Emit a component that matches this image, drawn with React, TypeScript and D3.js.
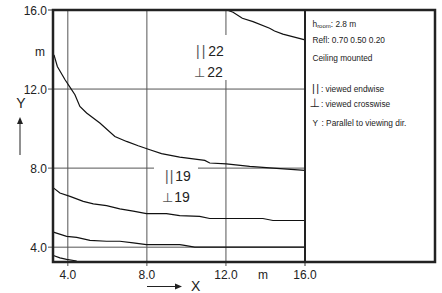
import * as d3 from 'd3'

// UGR contour diagram (room dimensions X/Y in m)
const W = 442
const H = 293
const FONT = "'Liberation Sans', Arial, Helvetica, sans-serif"

const xTicks = [4, 8, 12, 16]
const yTicks = [4, 8, 12, 16]
const gridValues = [4, 8, 12]

// contour polylines [x, y] in metres
const contourTop: [number, number][] = [
  [12.05, 16.0], [12.36, 15.89], [12.83, 15.58], [13.37, 15.41], [14.21, 15.08],
  [14.46, 14.94], [14.88, 14.78], [15.56, 14.6], [16.0, 14.49],
]
const contourUpper: [number, number][] = [
  [3.3, 13.73], [3.47, 13.14], [3.86, 12.47], [4.14, 12.05], [4.36, 11.71],
  [4.61, 11.12], [4.95, 10.79], [5.62, 10.28], [6.38, 9.6], [6.97, 9.35],
  [7.56, 9.13], [8.15, 8.93], [8.74, 8.73], [9.66, 8.56], [10.93, 8.39],
  [11.18, 8.26], [12.02, 8.21], [13.2, 8.09], [14.21, 8.01], [16.0, 7.89],
]
const contourMiddle: [number, number][] = [
  [3.27, 7.0], [3.6, 6.74], [4.11, 6.57], [4.78, 6.32], [5.29, 6.19],
  [5.96, 6.1], [6.63, 5.94], [7.31, 5.82], [7.98, 5.7], [8.99, 5.7],
  [9.66, 5.6], [10.67, 5.56], [11.18, 5.45], [13.87, 5.45], [14.38, 5.35],
  [16.0, 5.35],
]
const contourLower: [number, number][] = [
  [3.27, 4.76], [3.94, 4.55], [4.45, 4.5], [5.12, 4.34], [5.96, 4.3],
  [6.63, 4.3], [7.31, 4.22], [7.98, 4.13], [9.66, 4.13], [9.83, 4.1],
  [10.42, 4.0], [16.0, 4.0],
]
const contourBottom: [number, number][] = [
  [3.27, 3.58], [3.6, 3.46], [3.94, 3.38], [4.45, 3.3],
]
const contours = [contourTop, contourUpper, contourMiddle, contourLower, contourBottom]

const labels22 = ['22', '22']
const labels19 = ['19', '19']

export default function App() {
  const M = { left: 53, top: 10, plotRight: 305, right: 435, bottom: 262 }
  const x = d3.scaleLinear().domain([3.25, 16]).range([M.left, M.plotRight])
  const y = d3.scaleLinear().domain([3.25, 16]).range([M.bottom, M.top])
  const line = d3.line<[number, number]>().x((d) => x(d[0])).y((d) => y(d[1]))

  const txt = '#222'

  return (
    <svg width={W} height={H} viewBox={`0 0 ${W} ${H}`}
      style={{ position: 'absolute', left: 0, top: 0, background: '#fff' }}
      fontFamily={FONT}>
      <rect x={0} y={0} width={W} height={H} fill="#fff" />

      {/* grid lines + ticks */}
      {gridValues.map((v) => (
        <g key={'g' + v}>
          <line x1={x(v)} x2={x(v)} y1={M.top} y2={M.bottom + 4} stroke="#555" strokeWidth={1} />
          <line x1={M.left - 5} x2={M.plotRight} y1={y(v)} y2={y(v)} stroke="#555" strokeWidth={1} />
        </g>
      ))}
      <line x1={M.left - 5} x2={M.left} y1={y(16)} y2={y(16)} stroke="#333" strokeWidth={1} />
      <line x1={x(16)} x2={x(16)} y1={M.bottom} y2={M.bottom + 4} stroke="#333" strokeWidth={1} />

      {/* label backgrounds (break the grid) */}
      <rect x={193} y={35} width={36} height={45} fill="#fff" />
      <rect x={154} y={162} width={44} height={46} fill="#fff" />

      {/* contours */}
      {contours.map((c, i) => (
        <path key={i} d={line(c) ?? ''} fill="none" stroke="#111" strokeWidth={1.2} />
      ))}

      {/* frame */}
      <rect x={M.left} y={M.top} width={M.right - M.left} height={M.bottom - M.top}
        fill="none" stroke="#222" strokeWidth={2.5} />
      <line x1={M.plotRight} x2={M.plotRight} y1={M.top} y2={M.bottom} stroke="#222" strokeWidth={2} />

      {/* contour labels */}
      <text x={196} y={56} fontSize={14} fill={txt}>
        <tspan fill="#555" letterSpacing={2}>||</tspan><tspan dx={1}>{labels22[0]}</tspan>
      </text>
      <text x={194} y={77} fontSize={14} fill={txt}>
        <tspan fill="#555" fontFamily="'DejaVu Sans', sans-serif" fontSize={13}>⊥</tspan><tspan dx={2}>{labels22[1]}</tspan>
      </text>
      <text x={165} y={181} fontSize={14} fill={txt}>
        <tspan fill="#555" letterSpacing={1}>||</tspan><tspan dx={1}>{labels19[0]}</tspan>
      </text>
      <text x={162} y={202} fontSize={14} fill={txt}>
        <tspan fill="#555" fontFamily="'DejaVu Sans', sans-serif" fontSize={13}>⊥</tspan><tspan dx={1}>{labels19[1]}</tspan>
      </text>

      {/* axis tick labels */}
      {xTicks.map((v) => (
        <text key={'x' + v} x={x(v)} y={279} fontSize={12} textAnchor="middle" fill={txt}>
          {v.toFixed(1)}
        </text>
      ))}
      {yTicks.map((v) => (
        <text key={'y' + v} x={47} y={y(v) + 4.5} fontSize={12} textAnchor="end" fill={txt}>
          {v.toFixed(1)}
        </text>
      ))}
      <text x={263} y={279} fontSize={12} textAnchor="middle" fill={txt}>m</text>
      <text x={40} y={56} fontSize={12} textAnchor="middle" fill={txt}>m</text>

      {/* axis arrows */}
      <line x1={147} x2={176} y1={286.5} y2={286.5} stroke="#222" strokeWidth={1} />
      <path d="M182,286.5 L175,283.5 L175,289.5 Z" fill="#222" />
      <text x={191} y={291} fontSize={14} fill={txt}>X</text>
      <line x1={20} x2={20} y1={155} y2={123} stroke="#222" strokeWidth={1} />
      <path d="M20,117 L17,124 L23,124 Z" fill="#222" />
      <text x={21} y={108} fontSize={14} textAnchor="middle" fill={txt}>Y</text>

      {/* legend panel */}
      <g fontSize={8.3} fill={txt}>
        <text x={312.5} y={27}>h<tspan fontSize={6} dy={1}>room</tspan><tspan dy={-1}>: 2.8 m</tspan></text>
        <text x={312.5} y={43}>Refl: 0.70 0.50 0.20</text>
        <text x={312.5} y={61}>Ceiling mounted</text>
        <text x={312} y={92} fontSize={11} letterSpacing={1.5}>||</text>
        <text x={321} y={91.5}>: viewed endwise</text>
        <text x={309.5} y={107} fontSize={12} fontFamily="'DejaVu Sans', sans-serif">⊥</text>
        <text x={321} y={107}>: viewed crosswise</text>
        <text x={312.5} y={126}>Y</text>
        <text x={321.5} y={126}>: Parallel to viewing dir.</text>
      </g>
    </svg>
  )
}
